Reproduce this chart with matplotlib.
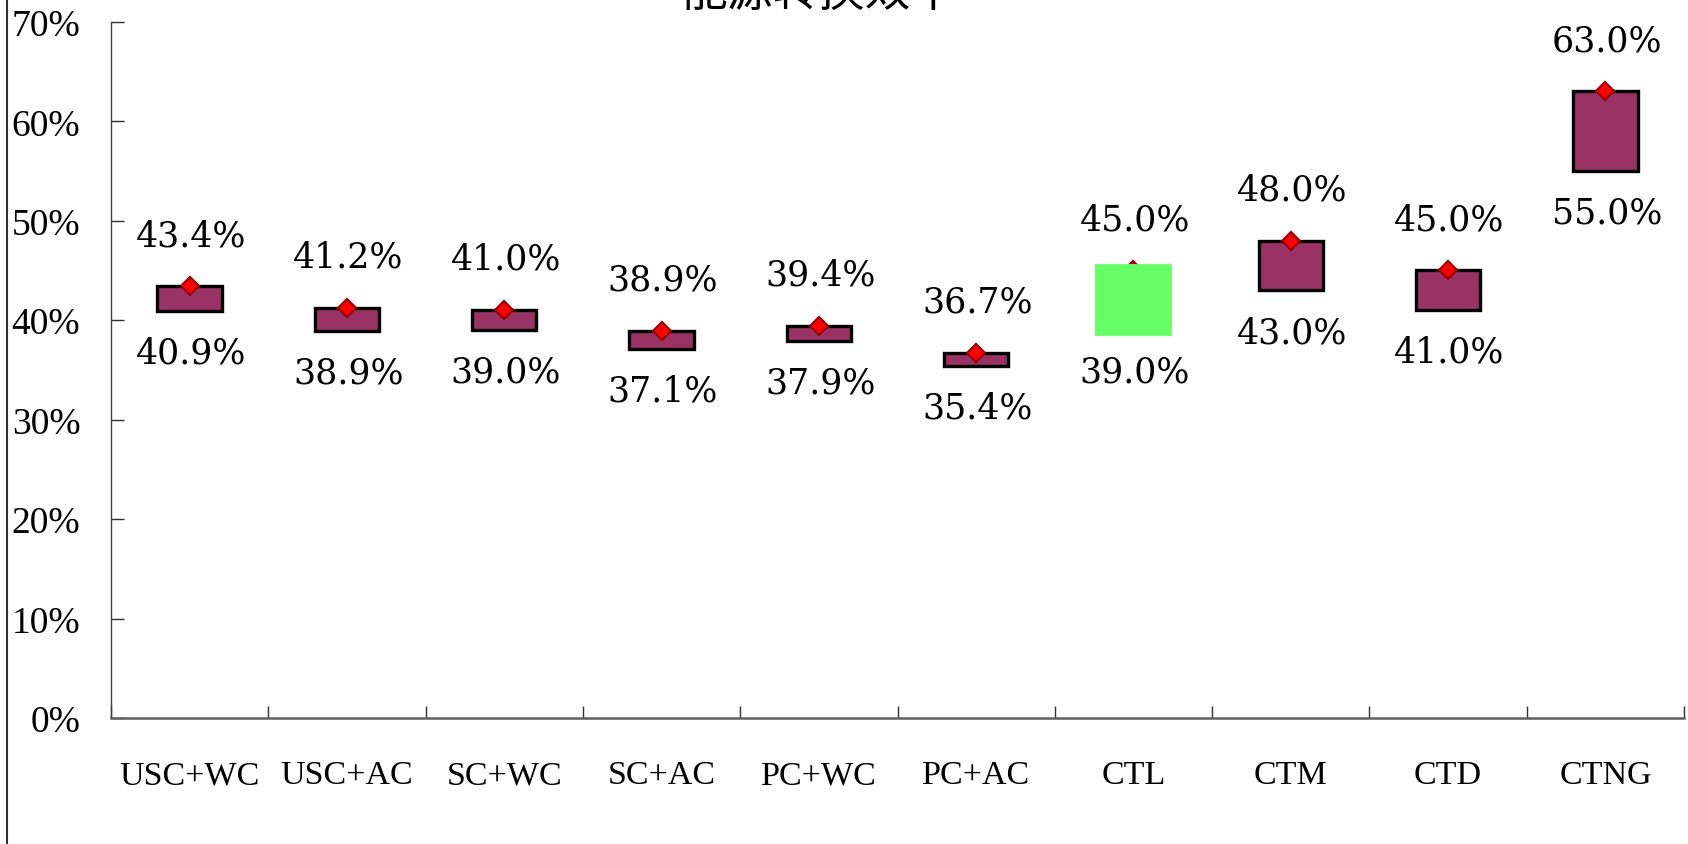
import matplotlib
matplotlib.use('Agg')
import matplotlib.pyplot as plt
from matplotlib.lines import Line2D
from matplotlib.ticker import FixedLocator, FuncFormatter, NullFormatter
import numpy as np

categories = ['USC+WC', 'USC+AC', 'SC+WC', 'SC+AC', 'PC+WC', 'PC+AC', 'CTL', 'CTM', 'CTD', 'CTNG']
low = [40.9, 38.9, 39.0, 37.1, 37.9, 35.4, 39.0, 43.0, 41.0, 55.0]
high = [43.4, 41.2, 41.0, 38.9, 39.4, 36.7, 45.0, 48.0, 45.0, 63.0]
highlight = 'CTL'
title = '能源转换效率'
yticks = [0, 10, 20, 30, 40, 50, 60, 70]

fig = plt.figure(figsize=(16.88, 8.45), dpi=100)
ax = fig.add_axes([0.0657, 0.149, 0.932, 0.824])

x = np.arange(len(categories)) + 0.5
for i, c in enumerate(categories):
    if c == highlight:
        # the selected bar is shown as a plain green block
        ax.bar(x[i], high[i] - low[i], bottom=low[i], width=0.41, color='#66ff66',
               edgecolor='#66ff66', linewidth=8.5, zorder=4)
    else:
        ax.bar(x[i], high[i] - low[i], bottom=low[i], width=0.41, color='#993366',
               edgecolor='black', linewidth=2.4, zorder=2)
    ax.annotate('%.1f%%' % high[i], (x[i], high[i]), xytext=(1, 37), textcoords='offset points',
                ha='center', va='center', fontsize=25, family='DejaVu Serif')
    ax.annotate('%.1f%%' % low[i], (x[i], low[i]), xytext=(1, -30), textcoords='offset points',
                ha='center', va='center', fontsize=25, family='DejaVu Serif')

ax.plot(x, high, 'D', ms=9, mfc='red', mec='#990000', mew=1.6, ls='none', zorder=3)

ax.set_xlim(0, len(categories))
ax.set_ylim(0, 70)

ax.xaxis.set_major_locator(FixedLocator(np.arange(len(categories) + 1)))
ax.xaxis.set_major_formatter(NullFormatter())
ax.xaxis.set_minor_locator(FixedLocator(x))
ax.set_xticklabels(categories, minor=True)
ax.tick_params(axis='x', which='major', direction='in', length=8.5, width=1, color='#303030')
ax.tick_params(axis='x', which='minor', length=0, pad=30)
for t in ax.get_xticklabels(minor=True):
    t.set_family('Liberation Serif')
    t.set_fontsize(24.5)

ax.set_yticks(yticks)
ax.yaxis.set_major_formatter(FuncFormatter(lambda v, p: '%d%%' % v))
ax.tick_params(axis='y', direction='in', length=9, width=1, color='#303030', pad=22)
for t in ax.get_yticklabels():
    t.set_family('Liberation Serif')
    t.set_fontsize(27)
    t.set_verticalalignment('center_baseline')

ax.spines['top'].set_visible(False)
ax.spines['right'].set_visible(False)
ax.spines['left'].set_color('#404040')
ax.spines['left'].set_linewidth(1)
ax.spines['bottom'].set_color('#606060')
ax.spines['bottom'].set_linewidth(1.8)

fig.text(0.485, 0.993, title, ha='center', va='baseline', fontsize=33, family=['Noto Sans CJK SC'])
fig.add_artist(Line2D([0.0042, 0.0042], [0, 1], transform=fig.transFigure, color='#303030', lw=1.5))

fig.savefig('out.png', dpi=100)
